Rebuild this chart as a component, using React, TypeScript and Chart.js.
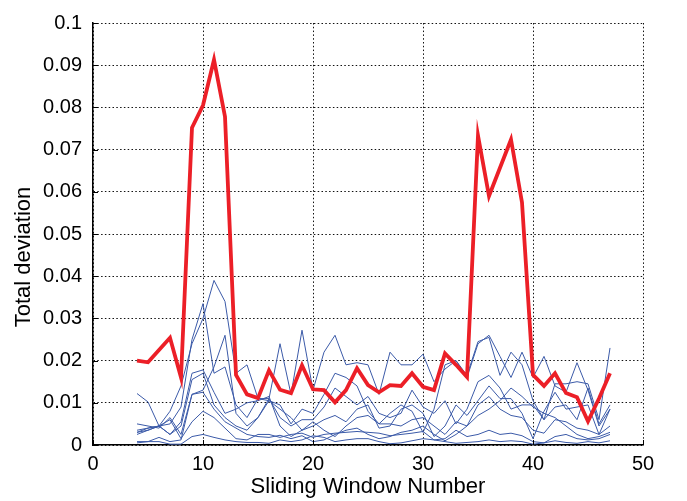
import React, { useEffect, useRef } from "react";
import { Chart, registerables } from "chart.js";

Chart.register(...registerables);

const windows = [4,5,6,7,8,9,10,11,12,13,14,15,16,17,18,19,20,21,22,23,24,25,26,27,28,29,30,31,32,33,34,35,36,37,38,39,40,41,42,43,44,45,46,47];

const totalRed = [0.020,0.0196,0.0225,0.0254,0.016,0.0752,0.0805,0.0913,0.0778,0.0166,0.012,0.0111,0.0177,0.0131,0.0123,0.0189,0.0132,0.013,0.0101,0.013,0.0182,0.0142,0.0125,0.0142,0.014,0.017,0.0138,0.013,0.0217,0.019,0.0161,0.0733,0.059,0.0657,0.0724,0.0575,0.0166,0.014,0.017,0.0123,0.0113,0.0056,0.011,0.017];

const blue1 = [0.003,0.004,0.0045,0.008,0.014,0.024,0.030,0.039,0.034,0.017,0.019,0.011,0.011,0.024,0.012,0.0272,0.013,0.022,0.026,0.019,0.0195,0.019,0.012,0.022,0.019,0.019,0.0215,0.015,0.018,0.020,0.016,0.024,0.026,0.021,0.016,0.022,0.016,0.021,0.014,0.0125,0.0195,0.013,0.0045,0.0085];
const blue2 = [0.0035,0.004,0.0045,0.005,0.009,0.025,0.0335,0.017,0.0185,0.0095,0.0065,0.011,0.0105,0.0095,0.005,0.0085,0.0075,0.012,0.017,0.016,0.014,0.008,0.005,0.0075,0.0095,0.008,0.003,0.0085,0.019,0.020,0.0165,0.0245,0.0255,0.0165,0.022,0.019,0.0105,0.006,0.0145,0.0145,0.015,0.0145,0.006,0.023];
const blue3 = [0.005,0.0045,0.004,0.0065,0.0025,0.012,0.013,0.0185,0.026,0.0075,0.0045,0.0065,0.011,0.0065,0.0045,0.006,0.006,0.009,0.0135,0.0115,0.0095,0.0115,0.0075,0.0065,0.0075,0.013,0.009,0.0075,0.0105,0.005,0.0085,0.015,0.0165,0.0135,0.0085,0.0095,0.0095,0.006,0.009,0.0095,0.006,0.0135,0.005,0.0095];
const blue4 = [0.0025,0.0035,0.0045,0.0025,0.0055,0.017,0.0178,0.0125,0.0075,0.0085,0.010,0.0105,0.0115,0.0045,0.002,0.0035,0.0045,0.006,0.007,0.0055,0.0085,0.0095,0.004,0.0045,0.0085,0.0095,0.0075,0.002,0.0045,0.0095,0.007,0.0105,0.014,0.011,0.011,0.0075,0.0015,0.008,0.0125,0.0085,0.009,0.0095,0.0025,0.0045];
const blue5 = [0.0005,0.0008,0.0018,0.0008,0.0012,0.012,0.0125,0.0085,0.0055,0.004,0.0025,0.002,0.0018,0.0023,0.0015,0.0022,0.0008,0.0012,0.0025,0.0035,0.004,0.0025,0.0015,0.002,0.003,0.0035,0.0045,0.0025,0.001,0.0025,0.0045,0.007,0.0085,0.0105,0.0135,0.0115,0.009,0.0075,0.0065,0.0045,0.0025,0.0015,0.002,0.003];
const blue6 = [0.0008,0.0008,0.0008,0.0002,0.0002,0.002,0.0025,0.0018,0.0012,0.0008,0.0006,0.0006,0.0004,0.0012,0.0008,0.0012,0.0022,0.0018,0.0008,0.0012,0.0015,0.0015,0.0008,0.0003,0.0005,0.001,0.0015,0.0012,0.0008,0.0004,0.0006,0.0008,0.0012,0.0008,0.001,0.0008,0.0002,0.0005,0.001,0.0006,0.0004,0.0008,0.0005,0.001];
const blue7 = [0.003,0.0035,0.0045,0.006,0.0015,0.0055,0.008,0.0065,0.004,0.0015,0.0012,0.0025,0.0025,0.0018,0.0025,0.0028,0.0018,0.0025,0.0028,0.003,0.0032,0.003,0.0028,0.0022,0.0025,0.0028,0.0032,0.0012,0.0015,0.0035,0.002,0.0025,0.0035,0.0025,0.0028,0.0022,0.0008,0.0005,0.002,0.0025,0.0015,0.0012,0.0015,0.0025];
const blue8 = [0.0122,0.0102,0.0045,0.0025,0.0045,0.0155,0.017,0.0095,0.0065,0.0045,0.0035,0.0065,0.0105,0.0085,0.0065,0.0035,0.0055,0.0035,0.002,0.0045,0.0065,0.007,0.005,0.005,0.0045,0.006,0.0065,0.0045,0.0025,0.0055,0.0045,0.0095,0.0115,0.0085,0.007,0.0065,0.0035,0.0028,0.006,0.0055,0.004,0.0035,0.0025,0.0085];

const blueSeries = [blue1, blue2, blue3, blue4, blue5, blue6, blue7, blue8];

const xTitle = "Sliding Window Number";
const yTitle = "Total deviation";

const FONT = "'Liberation Sans', Arial, Helvetica, sans-serif";
const RED = "#ec1f27";
const BLUE = "#3b5aa8";

const toPoints = (vals: number[]) => vals.map((v, i) => ({ x: windows[i], y: v }));

const decorPlugin = {
  id: "decor",
  afterDraw(chart: any) {
    const { ctx, chartArea, scales } = chart;
    const { left, bottom } = chartArea;
    ctx.save();
    ctx.strokeStyle = "#000";
    ctx.lineWidth = 1;
    scales.y.ticks.forEach((t: any) => {
      const y = Math.round(scales.y.getPixelForValue(t.value)) + 0.5;
      ctx.beginPath();
      ctx.moveTo(left, y);
      ctx.lineTo(left + 5, y);
      ctx.stroke();
    });
    scales.x.ticks.forEach((t: any) => {
      const x = Math.round(scales.x.getPixelForValue(t.value)) + 0.5;
      ctx.beginPath();
      ctx.moveTo(x, bottom);
      ctx.lineTo(x, bottom - 5);
      ctx.stroke();
    });
    ctx.fillStyle = "#000";
    ctx.textAlign = "center";
    ctx.textBaseline = "middle";
    ctx.font = `22px ${FONT}`;
    ctx.fillText(xTitle, (chartArea.left + chartArea.right) / 2, 487);
    ctx.translate(24, 257);
    ctx.rotate(-Math.PI / 2);
    ctx.font = `22px ${FONT}`;
    ctx.fillText(yTitle, 0, 0);
    ctx.restore();
  },
};

export default function App() {
  const canvasRef = useRef<HTMLCanvasElement | null>(null);

  useEffect(() => {
    if (!canvasRef.current) return;
    const datasets: any[] = [
      {
        data: toPoints(totalRed),
        borderColor: RED,
        borderWidth: 3.8,
        pointRadius: 0,
        tension: 0,
        fill: false,
      },
      ...blueSeries.map((s) => ({
        data: toPoints(s),
        borderColor: BLUE,
        borderWidth: 1,
        pointRadius: 0,
        tension: 0,
        fill: false,
      })),
    ];
    const chart = new Chart(canvasRef.current, {
      type: "line",
      data: { datasets },
      plugins: [decorPlugin],
      options: {
        animation: false,
        responsive: false,
        layout: { padding: { top: 10, right: 44, left: 0, bottom: 0 } },
        plugins: { legend: { display: false }, tooltip: { enabled: false } },
        scales: {
          x: {
            type: "linear",
            min: 0,
            max: 50,
            ticks: {
              stepSize: 10,
              padding: 7,
              color: "#000",
              maxRotation: 0,
              font: { family: FONT, size: 20 },
            },
            grid: { color: "#111", lineWidth: 1, drawTicks: false },
            border: { display: true, color: "#000", width: 1.5, dash: [1.5, 2.3] },
            afterFit: (scale: any) => {
              scale.height = 56;
            },
          },
          y: {
            type: "linear",
            min: 0,
            max: 0.1,
            ticks: {
              stepSize: 0.01,
              padding: 11,
              color: "#000",
              font: { family: FONT, size: 20 },
              callback: (v: any) => String(Number(Number(v).toFixed(2))),
            },
            grid: { color: "#111", lineWidth: 1, drawTicks: false },
            border: { display: true, color: "#000", width: 1.5, dash: [1.5, 2.3] },
            afterFit: (scale: any) => {
              scale.width = 93;
            },
          },
        },
      },
    });
    return () => chart.destroy();
  }, []);

  return (
    <div style={{ position: "absolute", left: 0, top: 0, width: 687, height: 501, background: "#fff" }}>
      <canvas ref={canvasRef} width={687} height={501} style={{ display: "block" }} />
    </div>
  );
}
